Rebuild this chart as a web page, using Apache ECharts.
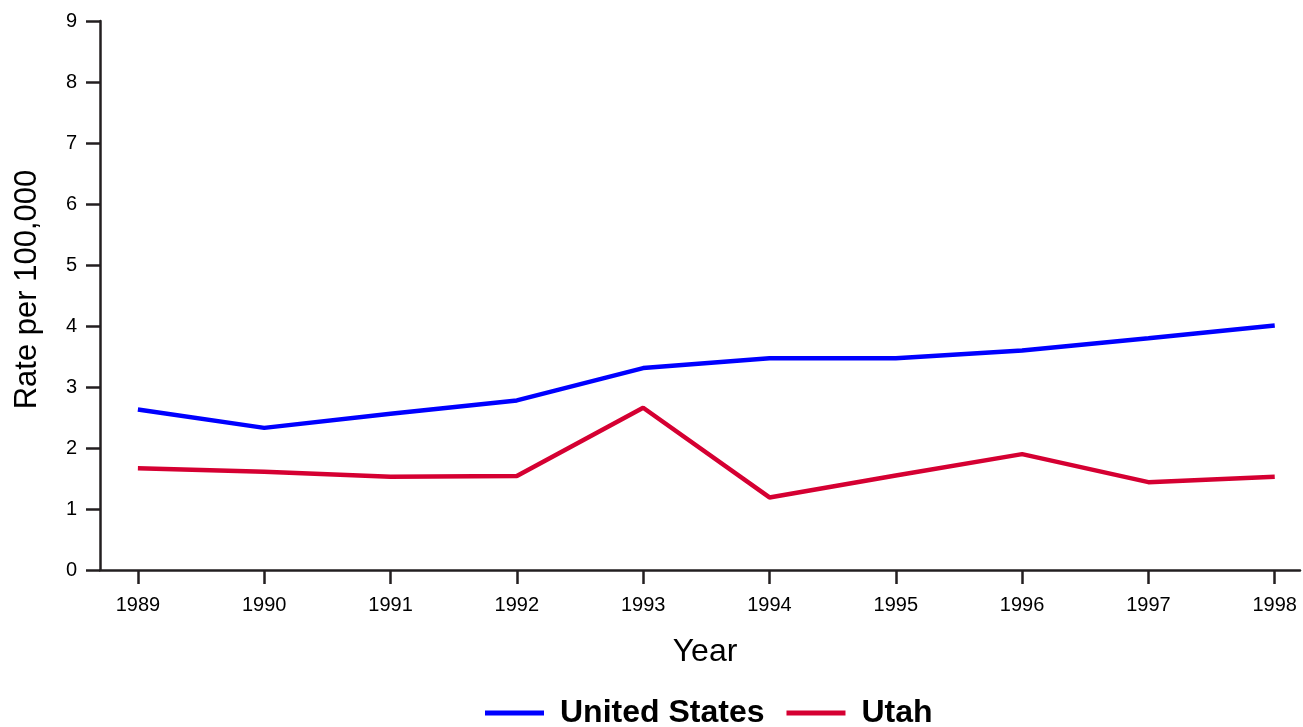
<!DOCTYPE html>
<html>
<head>
<meta charset="utf-8">
<style>
  html, body { margin: 0; padding: 0; background: #fff; }
  #chart { width: 1303px; height: 727px; }
</style>
<script src="https://cdn.jsdelivr.net/npm/echarts@6/dist/echarts.min.js"></script>
</head>
<body>
<div id="chart"></div>
<script>
// data
const years = [1989, 1990, 1991, 1992, 1993, 1994, 1995, 1996, 1997, 1998]
const usRate = [2.63, 2.33, 2.56, 2.78, 3.31, 3.47, 3.47, 3.60, 3.80, 4.01]
const utahRate = [1.67, 1.61, 1.53, 1.54, 2.66, 1.19, 1.55, 1.90, 1.44, 1.53]
const yTicks = [0, 1, 2, 3, 4, 5, 6, 7, 8, 9]

const axisColor = '#231f20'
const font = 'Liberation Sans, Arial, sans-serif'

const chart = echarts.init(document.getElementById('chart'))

const toPairs = (vals) => years.map((y, i) => [y, vals[i]])

const option = {
    animation: false,
    backgroundColor: '#fff',
    grid: {
        left: 100,
        right: 3,
        top: 21,
        bottom: 157,
        containLabel: false,
        outerBoundsMode: 'none'
    },
    legend: {
        left: 485,
        top: 697,
        padding: 0,
        icon: 'rect',
        itemWidth: 59,
        itemHeight: 5,
        itemGap: 22,
        textStyle: {
            fontFamily: font,
            fontSize: 32,
            fontWeight: 'bold',
            color: '#000',
            padding: [0, 0, 0, 11]
        },
        data: ['United States', 'Utah']
    },
    xAxis: {
        type: 'value',
        min: 1988.7,
        max: 1998.2,
        name: 'Year',
        nameLocation: 'middle',
        nameGap: 66,
        nameTextStyle: { fontFamily: font, fontSize: 32, color: '#000', padding: [0, 0, 0, 10] },
        axisLine: { show: true, lineStyle: { color: axisColor, width: 2.5 } },
        axisTick: {
            show: true,
            length: 14,
            customValues: years,
            lineStyle: { color: axisColor, width: 2.5 }
        },
        axisLabel: {
            customValues: years,
            fontFamily: font,
            fontSize: 20,
            color: '#000',
            margin: 25,
            formatter: (v) => String(v)
        },
        splitLine: { show: false }
    },
    yAxis: {
        type: 'value',
        min: 0,
        max: 9,
        interval: 1,
        name: 'Rate per 100,000',
        nameLocation: 'middle',
        nameGap: 57,
        nameTextStyle: { fontFamily: font, fontSize: 31, color: '#000', padding: [0, 0, 0, 12] },
        axisLine: { show: true, lineStyle: { color: axisColor, width: 2.5 } },
        axisTick: {
            show: true,
            length: 14,
            lineStyle: { color: axisColor, width: 2.5 }
        },
        axisLabel: {
            customValues: yTicks,
            fontFamily: font,
            fontSize: 20,
            color: '#000',
            margin: 23
        },
        splitLine: { show: false }
    },
    series: [
        {
            name: 'United States',
            type: 'line',
            data: toPairs(usRate),
            showSymbol: false,
            symbol: 'none',
            color: '#0000ff',
            lineStyle: { color: '#0000ff', width: 4.5 }
        },
        {
            name: 'Utah',
            type: 'line',
            data: toPairs(utahRate),
            showSymbol: false,
            symbol: 'none',
            color: '#d50032',
            lineStyle: { color: '#d50032', width: 4.5 }
        }
    ]
}

chart.setOption(option)
</script>
</body>
</html>
